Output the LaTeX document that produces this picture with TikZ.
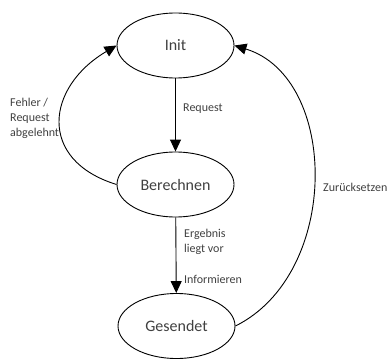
\documentclass[tikz,border=0pt]{standalone}
\usepackage{fontspec}
\setmainfont{Carlito}
\usetikzlibrary{shapes.geometric,arrows.meta}
\definecolor{txt}{HTML}{404040}
\tikzset{
  state/.style={ellipse, draw, line width=0.9pt, minimum width=117pt, minimum height=65pt,
    inner sep=0pt, text=txt, font=\fontsize{16}{19}\selectfont},
  lbl/.style={text=txt, font=\fontsize{12}{15}\selectfont, align=left, inner sep=0pt},
  trans/.style={line width=0.9pt, -{Triangle[length=12pt,width=11pt]}}
}
\begin{document}
\begin{tikzpicture}[x=1pt,y=-1pt]
  \useasboundingbox (0,0) rectangle (387,358);
  % states
  \node[state] (init) at (175.5,45.5) {Init};
  \node[state] (calc) at (175.5,184.5) {Berechnen};
  \node[state] (sent) at (176.5,326) {Gesendet};
  % forward transitions
  \draw[trans] (init) -- (calc);
  \draw[trans] (calc) -- (sent);
  % back to the initial state
  \draw[trans] (calc.west) .. controls (37,160) and (46,87) .. (init.west);
  \draw[trans] (sent.east) .. controls (341,273.5) and (339,77.5) .. (init.east);
  % transition labels
  \node[lbl, anchor=west] (lreq) at (183,109) {Request};
  \node[lbl, anchor=west] (lerr) at (10,118) {Fehler /\\Request\\abgelehnt};
  \node[lbl, anchor=west] (lres) at (184,242) {Ergebnis\\liegt vor};
  \node[lbl, anchor=west] (linf) at (184,279) {Informieren};
  \node[lbl, anchor=west] (lrst) at (323,187) {Zurücksetzen};
\end{tikzpicture}
\end{document}
